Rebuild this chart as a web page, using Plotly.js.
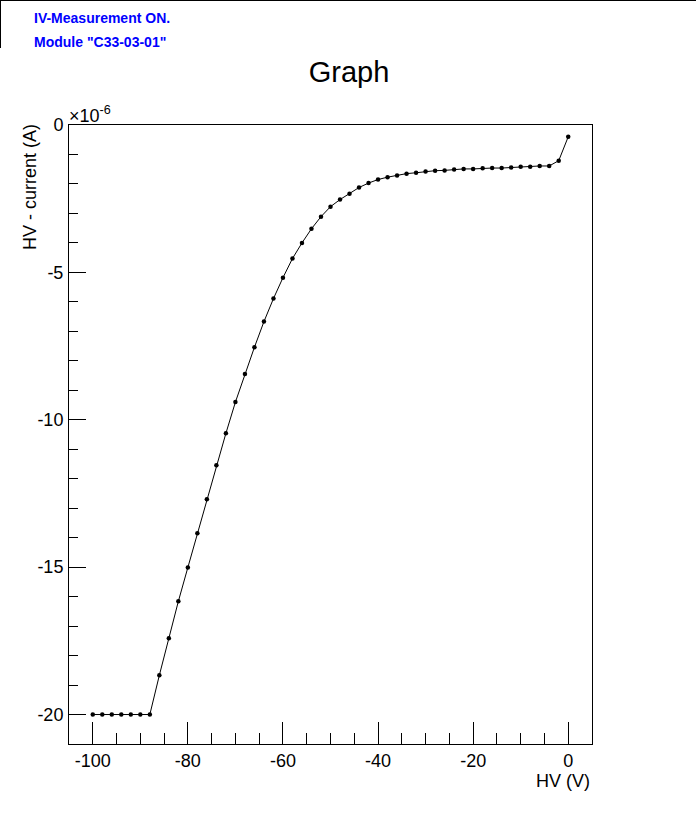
<!DOCTYPE html>
<html>
<head>
<meta charset="utf-8">
<script src="https://cdn.plot.ly/plotly-3.0.1.min.js"></script>
<style>
  html, body { margin: 0; padding: 0; background: #fff; }
  #plot { width: 696px; height: 822px; }
</style>
</head>
<body>
<div id="plot"></div>
<script>
// HV bias voltage (V)
const hvVolts = [
  -100, -98, -96, -94, -92, -90, -88, -86, -84, -82,
  -80, -78, -76, -74, -72, -70, -68, -66, -64, -62,
  -60, -58, -56, -54, -52, -50, -48, -46, -44, -42,
  -40, -38, -36, -34, -32, -30, -28, -26, -24, -22,
  -20, -18, -16, -14, -12, -10, -8, -6, -4, -2, 0
];
// HV current in units of 1e-6 A
const currentMicroAmps = [
  -20.0, -20.0, -20.0, -20.0, -20.0, -20.0, -20.0, -18.67, -17.41, -16.16,
  -15.01, -13.85, -12.70, -11.54, -10.46, -9.40, -8.45, -7.54, -6.67, -5.89,
  -5.18, -4.53, -4.00, -3.52, -3.11, -2.77, -2.53, -2.33, -2.12, -1.97,
  -1.85, -1.77, -1.71, -1.65, -1.62, -1.58, -1.55, -1.54, -1.51, -1.49,
  -1.49, -1.47, -1.46, -1.46, -1.44, -1.42, -1.42, -1.39, -1.39, -1.21, -0.40
];
const xTickVals = [-100, -80, -60, -40, -20, 0];
const xTickText = ['-100', '-80', '-60', '-40', '-20', '0'];
const yTickVals = [0, -5, -10, -15, -20];
const yTickText = ['0', '-5', '-10', '-15', '-20'];

const titleText = 'Graph';
const xTitleText = 'HV (V)';
const yTitleText = 'HV - current (A)';
const infoLines = ['IV-Measurement ON.', 'Module "C33-03-01"'];

const W = 696, H = 822;
const L = 69, R = 592, T = 125, B = 744;
const pw = R - L, ph = B - T;
const px = v => (v - L) / pw;
const py = v => (B - v) / ph;

const font = 'Liberation Sans, Arial, sans-serif';

const trace = {
  x: hvVolts,
  y: currentMicroAmps,
  type: 'scatter',
  mode: 'lines+markers',
  line: { color: '#000', width: 1 },
  marker: { color: '#000', size: 4.5, symbol: 'circle' },
  showlegend: false,
  hoverinfo: 'x+y'
};

const layout = {
  width: W, height: H,
  margin: { l: L, r: W - R, t: T, b: H - B, pad: 0 },
  paper_bgcolor: '#fff',
  plot_bgcolor: '#fff',
  font: { family: font, color: '#000', size: 18 },
  title: {
    text: titleText,
    font: { family: font, size: 29, color: '#000' },
    x: 349 / W, xanchor: 'center', xref: 'container',
    y: 1 - 72 / H, yanchor: 'middle', yref: 'container'
  },
  xaxis: {
    range: [-105, 5],
    showgrid: false, zeroline: false,
    showline: true, linecolor: '#000', linewidth: 1, mirror: true,
    tickmode: 'array', tickvals: xTickVals, ticktext: xTickText,
    ticks: 'inside', ticklen: 22, tickcolor: '#000', tickwidth: 1,
    minor: { dtick: 5, tick0: 0, ticks: 'inside', ticklen: 11, tickcolor: '#000', tickwidth: 1, showgrid: false },
    tickfont: { family: font, size: 18, color: '#000' },
    ticklabelstandoff: 0
  },
  yaxis: {
    range: [-21, 0],
    showgrid: false, zeroline: false,
    showline: true, linecolor: '#000', linewidth: 1, mirror: true,
    tickmode: 'array', tickvals: yTickVals, ticktext: yTickText,
    ticks: 'inside', ticklen: 17, tickcolor: '#000', tickwidth: 1,
    minor: { dtick: 1, tick0: 0, ticks: 'inside', ticklen: 9, tickcolor: '#000', tickwidth: 1, showgrid: false },
    tickfont: { family: font, size: 18, color: '#000' },
    ticklabelstandoff: 1
  },
  shapes: [
    { type: 'line', xref: 'paper', yref: 'paper', x0: px(0), x1: px(W), y0: py(0.5), y1: py(0.5), line: { color: '#000', width: 1 } },
    { type: 'line', xref: 'paper', yref: 'paper', x0: px(0.5), x1: px(0.5), y0: py(0), y1: py(48), line: { color: '#000', width: 1 } }
  ],
  annotations: [
    { text: '<b>' + infoLines[0] + '</b>', xref: 'paper', yref: 'paper', x: px(32), y: py(18), xanchor: 'left', yanchor: 'middle', showarrow: false, font: { family: font, size: 14, color: '#0000ff' } },
    { text: '<b>' + infoLines[1] + '</b>', xref: 'paper', yref: 'paper', x: px(32), y: py(42), xanchor: 'left', yanchor: 'middle', showarrow: false, font: { family: font, size: 14, color: '#0000ff' } },
    { text: '×10<sup>-6</sup>', xref: 'paper', yref: 'paper', x: px(67), y: py(128), xanchor: 'left', yanchor: 'bottom', showarrow: false, font: { family: font, size: 18, color: '#000' } },
    { text: xTitleText, xref: 'paper', yref: 'paper', x: px(592), y: py(781), xanchor: 'right', yanchor: 'middle', showarrow: false, font: { family: font, size: 18, color: '#000' } },
    { text: yTitleText, xref: 'paper', yref: 'paper', x: px(30), y: py(122), xanchor: 'center', yanchor: 'top', textangle: -90, showarrow: false, font: { family: font, size: 18, color: '#000' } }
  ]
};

Plotly.newPlot('plot', [trace], layout, { displayModeBar: false, staticPlot: true });
</script>
</body>
</html>
